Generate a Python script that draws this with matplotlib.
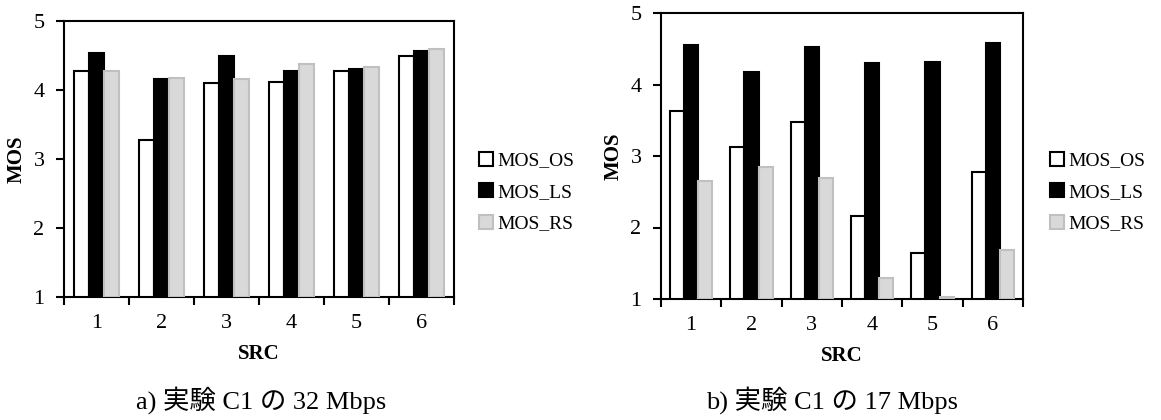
import matplotlib
matplotlib.use("Agg")
import matplotlib.pyplot as plt
from matplotlib.patches import Patch
import numpy as np

plt.rcParams['font.family'] = ['Liberation Serif', 'Noto Sans CJK JP']

categories = ['1', '2', '3', '4', '5', '6']
series_names = ['MOS_OS', 'MOS_LS', 'MOS_RS']

a_os = [4.28, 3.28, 4.10, 4.12, 4.28, 4.49]
a_ls = [4.54, 4.16, 4.50, 4.28, 4.31, 4.57]
a_rs = [4.28, 4.18, 4.16, 4.38, 4.34, 4.60]

b_os = [3.63, 3.12, 3.47, 2.16, 1.64, 2.78]
b_ls = [4.55, 4.17, 4.52, 4.30, 4.32, 4.58]
b_rs = [2.65, 2.85, 2.69, 1.29, 1.03, 1.69]

captions = ['a) 実験 C1 の 32 Mbps', 'b) 実験 C1 の 17 Mbps']

W, H = 1161, 420
fig = plt.figure(figsize=(W / 100, H / 100), dpi=100)

styles = [
    dict(facecolor='white', edgecolor='black', linewidth=1.5),
    dict(facecolor='black', edgecolor='black', linewidth=1.5),
    dict(facecolor='#d9d9d9', edgecolor='#c0c0c0', linewidth=1.5),
]

def px(x0, y0, x1, y1):
    return [x0 / W, 1 - y1 / H, (x1 - x0) / W, (y1 - y0) / H]

def draw(rect, data, caption, cap_x, leg_x):
    ax = fig.add_axes(px(*rect))
    x = np.arange(1, len(categories) + 1)
    w = 0.235
    for i, (vals, st) in enumerate(zip(data, styles)):
        ax.bar(x + (i - 1) * w, np.array(vals) - 1, bottom=1, width=w, **st, zorder=3)
    ax.set_xlim(0.5, 6.5)
    ax.set_ylim(1, 5)
    ax.set_yticks([1, 2, 3, 4, 5])
    ax.set_xticks(np.arange(0.5, 7.0, 1.0))
    ax.set_xticklabels([])
    ax.set_xticks(x, minor=True)
    ax.set_xticklabels(categories, minor=True)
    ax.tick_params(axis='x', which='major', direction='out', length=6, width=1.5)
    ax.tick_params(axis='x', which='minor', length=0, pad=12, labelsize=16)
    ax.tick_params(axis='y', direction='out', length=6, width=1.5, labelsize=16, pad=8)
    for s in ax.spines.values():
        s.set_linewidth(1.5)
    ax.set_ylabel('MOS', fontweight='bold', fontsize=15, labelpad=5)
    ax.set_xlabel('SRC', fontweight='bold', fontsize=15, labelpad=8)
    handles = [Patch(**st) for st in styles]
    fig.legend(handles, series_names, loc='center left',
               bbox_to_anchor=(leg_x / W, 1 - 192 / H), frameon=False,
               fontsize=14, handlelength=0.75, handleheight=0.75,
               handletextpad=0.2, labelspacing=0.7, borderaxespad=0)
    fig.text(cap_x / W, 1 - 400 / H, caption, ha='center', va='center', fontsize=19)

draw((64, 21, 454, 297), [a_os, a_ls, a_rs], captions[0], 261, 471)
draw((661, 13, 1023, 299), [b_os, b_ls, b_rs], captions[1], 832, 1042)

fig.savefig('out.png', dpi=100)
